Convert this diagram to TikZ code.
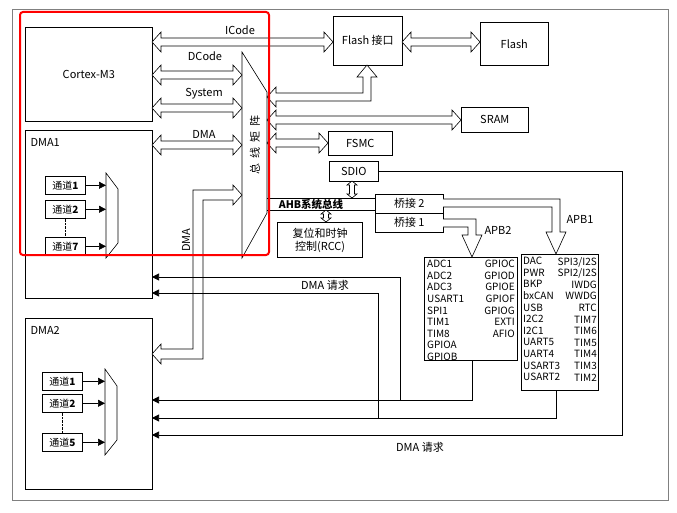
\documentclass[tikz,border=0pt]{standalone}
\usepackage{fontspec}
\setmainfont{Noto Sans CJK SC}
\usetikzlibrary{arrows.meta,positioning}
% hollow block arrows: horizontal (x1, x2, y) and vertical (x, y1, y2)
\newcommand{\fatH}[3]{\draw[blk] (#1,#3) -- ({#1+9},{#3-10}) -- ({#1+9},{#3-4}) -- ({#2-9},{#3-4})
  -- ({#2-9},{#3-10}) -- (#2,#3) -- ({#2-9},{#3+10}) -- ({#2-9},{#3+4}) -- ({#1+9},{#3+4}) -- ({#1+9},{#3+10}) -- cycle;}
\newcommand{\fatV}[3]{\draw[blk] (#1,#2) -- ({#1-5},{#2+4}) -- ({#1-2.5},{#2+4}) -- ({#1-2.5},{#3-4})
  -- ({#1-5},{#3-4}) -- (#1,#3) -- ({#1+5},{#3-4}) -- ({#1+2.5},{#3-4}) -- ({#1+2.5},{#2+4}) -- ({#1+5},{#2+4}) -- cycle;}
\begin{document}
\begin{tikzpicture}[x=1pt,y=-1pt,font=\fontsize{11}{13}\selectfont]
    % Define styles
    \tikzstyle{box} = [draw, line width=0.6pt, anchor=north west, inner sep=0pt]
    \tikzstyle{blk} = [line width=0.6pt, fill=white, line join=miter]
    \tikzstyle{req} = [line width=0.6pt, -{Triangle[length=7pt,width=7pt]}]
    \tikzstyle{list} = [inner sep=0pt, font=\fontsize{10}{11.6}\selectfont]

    \useasboundingbox (0,0) rectangle (677,513);
    \draw[line width=0.6pt, gray] (12,9) rectangle (668,500);

    % Boxes positioned absolutely
    \node[box, minimum width=127pt, minimum height=94pt] (cortex) at (25,27) {Cortex-M3};
    \node[box, minimum width=127pt, minimum height=168pt] (dma1) at (25,130) {};
    \node[anchor=west] at (27,142) {DMA1};
    \node[box, minimum width=127pt, minimum height=171pt] (dma2) at (25,318) {};
    \node[anchor=west] at (27,330) {DMA2};
    \node[box, minimum width=69pt, minimum height=49pt] (flashif) at (333,16) {Flash 接口};
    \node[box, minimum width=68pt, minimum height=43pt] (flash) at (480,22) {Flash};
    \node[box, minimum width=67pt, minimum height=25pt] (sram) at (461,107) {SRAM};
    \node[box, minimum width=64pt, minimum height=24pt] (fsmc) at (328,131) {FSMC};
    \node[box, minimum width=49pt, minimum height=20pt] (sdio) at (329,161) {SDIO};
    \node[box, minimum width=68pt, minimum height=19pt] (br2) at (375,194) {桥接 2};
    \node[box, minimum width=68pt, minimum height=19pt] (br1) at (375,213) {桥接 1};
    \node[box, line width=1.2pt, minimum width=85pt, minimum height=35pt, align=center] (rcc) at (277,222) {复位和时钟\\控制(RCC)};
    \node[box, minimum width=93pt, minimum height=103pt] (apb2) at (424,257) {};
    \node[box, minimum width=77pt, minimum height=136pt] (apb1) at (521,254) {};

    % Peripheral lists
    \node[list, anchor=north west, align=left] at (427,260)
        {ADC1\\ADC2\\ADC3\\USART1\\SPI1\\TIM1\\TIM8\\GPIOA\\GPIOB};
    \node[list, anchor=north east, align=right] at (515,260)
        {GPIOC\\GPIOD\\GPIOE\\GPIOF\\GPIOG\\EXTI\\AFIO};
    \node[list, anchor=north west, align=left] at (523,257)
        {DAC\\PWR\\BKP\\bxCAN\\USB\\I2C2\\I2C1\\UART5\\UART4\\USART3\\USART2};
    \node[list, anchor=north east, align=right] at (597,257)
        {SPI3/I2S\\SPI2/I2S\\IWDG\\WWDG\\RTC\\TIM7\\TIM6\\TIM5\\TIM4\\TIM3\\TIM2};

    % Bus matrix
    \draw[line width=0.6pt] (242,52) -- (267,92) -- (267,213) -- (242,258) -- cycle;
    \node[rotate=90] at (255,145) {总\hspace{5pt}线\hspace{5pt}矩\hspace{5pt}阵};

    % Bus arrows
    \fatH{152}{333}{42}
    \fatH{152}{242}{75}
    \fatH{152}{242}{108}
    \fatH{152}{242}{145}
    \fatH{402}{480}{42}
    \fatH{267}{461}{120}
    \fatH{267}{328}{143}
    \draw[blk] (267,97) -- (276,87) -- (276,93) -- (363,93) -- (363,77) -- (357,77) -- (367,65)
        -- (377,77) -- (371,77) -- (371,101) -- (276,101) -- (276,107) -- cycle;
    \draw[blk] (242,195) -- (233,185) -- (233,190) -- (193,190) -- (193,349) -- (161,349) -- (161,344)
        -- (152,354) -- (161,364) -- (161,359) -- (203,359) -- (203,200) -- (233,200) -- (233,205) -- cycle;
    \node[rotate=90] at (186,240) {DMA};
    \node at (240,30) {ICode};
    \node at (205,56) {DCode};
    \node at (204,94) {System};
    \node at (204,134) {DMA};

    % AHB
    \coordinate (bmA1) at (267,198);
    \coordinate (bmA2) at (267,210);
    \draw[line width=0.6pt] (bmA1) -- (br2.west |- bmA1);
    \draw[line width=0.6pt] (bmA2) -- (br2.west |- bmA2);
    \node[font=\bfseries\fontsize{10.5}{12}\selectfont] at (311,204) {AHB系统总线};
    \fatV{352}{181}{198}
    \fatV{326}{210}{222}

    % APB bridges
    \draw[blk] (443,199) -- (560,199) -- (560,232) -- (566,232) -- (556,254) -- (546,232)
        -- (552,232) -- (552,207) -- (443,207);
    \draw[blk] (443,219) -- (476,219) -- (476,235) -- (482,235) -- (472,257) -- (462,235)
        -- (468,235) -- (468,227) -- (443,227);
    \node at (580,219) {APB1};
    \node at (498,230) {APB2};

    % DMA requests
    \coordinate (apbI) at (556,254);
    \coordinate (apbII) at (472,257);
    \coordinate (d1R1) at (152,277);
    \coordinate (d1R2) at (152,293);
    \coordinate (d2R1) at (152,400);
    \coordinate (d2R2) at (152,418);
    \coordinate (d2R3) at (152,435);
    \coordinate (j1) at (400,400);
    \coordinate (j2) at (378,418);
    \coordinate (sdR) at (622,435);
    \draw[req] (apb2.south -| apbII) |- (d2R1);
    \draw[req] (apb1.south -| apbI) |- (d2R2);
    \draw[req] (j1) |- (d1R1);
    \draw[req] (j2) |- (d1R2);
    \draw[req] (sdio.east) -| (sdR) -- (d2R3);
    \node at (325,285) {DMA 请求};
    \node at (420,447) {DMA 请求};

    % DMA1 channels
    \tikzstyle{chan} = [box, minimum width=40pt, minimum height=18pt, font=\fontsize{10}{11}\selectfont]
    \node[chan] (a1) at (45,176) {通道\textbf{1}};
    \node[chan] (a2) at (45,200) {通道\textbf{2}};
    \node[chan] (a7) at (45,237) {通道\textbf{7}};
    \draw[densely dotted] (a2) -- (a7);
    \draw[line width=0.6pt] (106,173) -- (118,189) -- (118,243) -- (106,258) -- cycle;
    \coordinate (muxA) at (106,0);
    \draw[req] (a1) -- (a1 -| muxA);
    \draw[req] (a2) -- (a2 -| muxA);
    \draw[req] (a7) -- (a7 -| muxA);

    % DMA2 channels
    \node[chan] (b1) at (42,372) {通道\textbf{1}};
    \node[chan] (b2) at (42,394) {通道\textbf{2}};
    \node[chan] (b5) at (42,433) {通道\textbf{5}};
    \draw[densely dotted] (b2) -- (b5);
    \draw[line width=0.6pt] (105,369) -- (117,386) -- (117,440) -- (105,455) -- cycle;
    \coordinate (muxB) at (105,0);
    \draw[req] (b1) -- (b1 -| muxB);
    \draw[req] (b2) -- (b2 -| muxB);
    \draw[req] (b5) -- (b5 -| muxB);

    % Highlight
    \draw[red, line width=2pt, rounded corners=3pt] (20,12) rectangle (269,255);
\end{tikzpicture}
\end{document}
